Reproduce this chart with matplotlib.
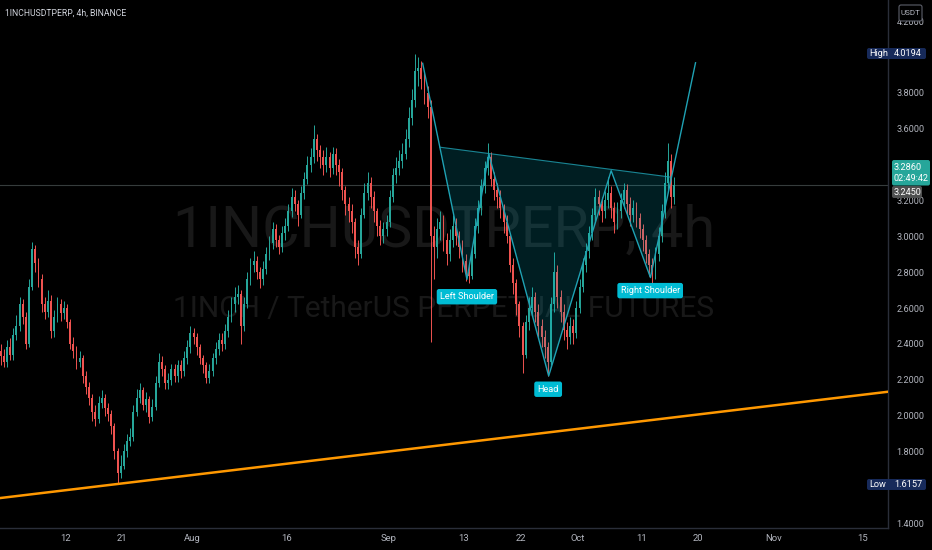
import numpy as np
import pandas as pd
import matplotlib
matplotlib.use("Agg")
import matplotlib.pyplot as plt
import matplotlib.dates as mdates
from matplotlib.patches import FancyBboxPatch
from matplotlib.transforms import IdentityTransform

# 1INCHUSDTPERP, 12h candles (open = previous close)
start = "2021-07-01 18:00"
first_open = 2.36
closes = [
    2.33, 2.30, 2.38, 2.34, 2.45, 2.50, 2.62, 2.55, 2.40, 2.72,
    2.93, 2.85, 2.76, 2.62, 2.58, 2.64, 2.47, 2.55, 2.62, 2.57,
    2.60, 2.52, 2.40, 2.36, 2.30, 2.32, 2.22, 2.16, 2.10, 2.02,
    1.98, 2.07, 2.10, 2.04, 2.01, 1.94, 1.80, 1.68, 1.72, 1.80,
    1.86, 1.88, 2.02, 2.10, 2.14, 2.06, 2.09, 1.99, 2.05, 2.18,
    2.30, 2.26, 2.18, 2.20, 2.26, 2.22, 2.28, 2.25, 2.32, 2.38,
    2.46, 2.44, 2.38, 2.32, 2.28, 2.21, 2.25, 2.32, 2.37, 2.42,
    2.40, 2.47, 2.55, 2.62, 2.66, 2.68, 2.50, 2.62, 2.76, 2.84,
    2.86, 2.80, 2.76, 2.82, 2.90, 2.96, 3.04, 2.98, 2.94, 3.02,
    3.06, 3.14, 3.22, 3.18, 3.12, 3.24, 3.32, 3.40, 3.44, 3.54,
    3.48, 3.44, 3.40, 3.44, 3.38, 3.46, 3.40, 3.36, 3.26, 3.18,
    3.14, 3.08, 2.94, 2.90, 3.12, 3.24, 3.30, 3.22, 3.14, 3.06,
    3.00, 3.04, 3.08, 3.22, 3.34, 3.38, 3.42, 3.46, 3.54, 3.66,
    3.76, 3.92, 3.94, 3.88, 3.80, 3.72, 3.00, 2.94, 3.04, 3.08,
    2.98, 2.90, 2.98, 3.06, 3.00, 2.94, 2.86, 2.80, 2.78, 2.90,
    3.06, 3.16, 3.28, 3.38, 3.44, 3.32, 3.26, 3.22, 3.16, 3.08,
    3.00, 2.84, 2.74, 2.62, 2.50, 2.34, 2.52, 2.60, 2.66, 2.58,
    2.50, 2.44, 2.38, 2.30, 2.62, 2.80, 2.66, 2.58, 2.48, 2.44,
    2.50, 2.46, 2.60, 2.72, 2.84, 2.92, 3.02, 3.12, 3.22, 3.18,
    3.14, 3.20, 3.24, 3.16, 3.08, 3.14, 3.20, 3.26, 3.18, 3.12,
    3.16, 3.10, 3.04, 2.98, 2.90, 2.84, 2.80, 2.90, 3.00, 3.14,
    3.30, 3.42, 3.22, 3.286,
]
highs = [
    2.40, 2.37, 2.42, 2.43, 2.49, 2.56, 2.66, 2.65, 2.58, 2.76,
    2.97, 2.95, 2.88, 2.79, 2.66, 2.70, 2.67, 2.59, 2.66, 2.65,
    2.64, 2.62, 2.54, 2.44, 2.39, 2.36, 2.34, 2.25, 2.19, 2.12,
    2.06, 2.11, 2.14, 2.12, 2.07, 2.03, 1.96, 1.82, 1.78, 1.84,
    1.90, 1.93, 2.06, 2.15, 2.18, 2.16, 2.13, 2.11, 2.09, 2.22,
    2.35, 2.33, 2.28, 2.24, 2.29, 2.29, 2.31, 2.31, 2.36, 2.42,
    2.50, 2.49, 2.46, 2.40, 2.34, 2.30, 2.29, 2.35, 2.41, 2.46,
    2.46, 2.51, 2.59, 2.66, 2.72, 2.73, 2.70, 2.66, 2.80, 2.88,
    2.92, 2.89, 2.83, 2.86, 2.94, 3.00, 3.08, 3.07, 3.01, 3.06,
    3.10, 3.18, 3.27, 3.26, 3.20, 3.28, 3.36, 3.45, 3.49, 3.62,
    3.57, 3.51, 3.48, 3.50, 3.47, 3.50, 3.49, 3.43, 3.38, 3.28,
    3.22, 3.18, 3.10, 2.98, 3.16, 3.30, 3.36, 3.33, 3.25, 3.16,
    3.09, 3.08, 3.12, 3.26, 3.38, 3.44, 3.48, 3.52, 3.60, 3.72,
    3.82, 4.0194, 4.00, 3.98, 3.92, 3.84, 3.76, 3.06, 3.10, 3.14,
    3.12, 3.02, 3.04, 3.12, 3.10, 3.03, 2.98, 2.90, 2.84, 2.94,
    3.10, 3.20, 3.32, 3.42, 3.52, 3.47, 3.36, 3.30, 3.26, 3.18,
    3.12, 3.02, 2.88, 2.76, 2.64, 2.52, 2.56, 2.66, 2.72, 2.69,
    2.62, 2.54, 2.48, 2.41, 2.66, 2.91, 2.84, 2.70, 2.62, 2.52,
    2.55, 2.54, 2.64, 2.76, 2.88, 2.96, 3.06, 3.16, 3.27, 3.26,
    3.22, 3.25, 3.33, 3.28, 3.19, 3.19, 3.24, 3.30, 3.29, 3.22,
    3.20, 3.19, 3.13, 3.07, 3.01, 2.93, 2.88, 2.94, 3.05, 3.18,
    3.36, 3.52, 3.46, 3.33,
]
lows = [
    2.28, 2.27, 2.27, 2.31, 2.31, 2.42, 2.47, 2.51, 2.37, 2.38,
    2.70, 2.80, 2.72, 2.58, 2.54, 2.55, 2.43, 2.44, 2.52, 2.53,
    2.54, 2.49, 2.37, 2.32, 2.26, 2.27, 2.18, 2.12, 2.06, 1.97,
    1.94, 1.96, 2.04, 2.00, 1.97, 1.90, 1.76, 1.6157, 1.65, 1.70,
    1.77, 1.83, 1.86, 2.00, 2.07, 2.03, 2.02, 1.96, 1.97, 2.03,
    2.16, 2.22, 2.15, 2.15, 2.17, 2.19, 2.19, 2.21, 2.22, 2.29,
    2.35, 2.40, 2.34, 2.29, 2.24, 2.18, 2.18, 2.22, 2.29, 2.34,
    2.36, 2.37, 2.44, 2.52, 2.58, 2.62, 2.40, 2.47, 2.60, 2.73,
    2.80, 2.76, 2.71, 2.73, 2.79, 2.87, 2.93, 2.94, 2.90, 2.91,
    2.98, 3.03, 3.11, 3.14, 3.06, 3.10, 3.21, 3.29, 3.36, 3.41,
    3.42, 3.38, 3.34, 3.36, 3.33, 3.35, 3.34, 3.28, 3.20, 3.12,
    3.08, 3.02, 2.88, 2.84, 2.88, 3.10, 3.20, 3.16, 3.08, 3.00,
    2.95, 2.96, 3.00, 3.05, 3.19, 3.30, 3.34, 3.38, 3.43, 3.50,
    3.62, 3.72, 3.84, 3.82, 3.74, 3.66, 2.41, 2.76, 2.88, 2.98,
    2.92, 2.84, 2.86, 2.94, 2.95, 2.88, 2.80, 2.75, 2.74, 2.76,
    2.88, 3.02, 3.12, 3.24, 3.34, 3.28, 3.20, 3.16, 3.10, 3.02,
    2.96, 2.80, 2.68, 2.56, 2.44, 2.24, 2.32, 2.48, 2.56, 2.52,
    2.44, 2.38, 2.32, 2.22, 2.28, 2.58, 2.60, 2.52, 2.42, 2.37,
    2.40, 2.40, 2.43, 2.57, 2.69, 2.80, 2.88, 2.98, 3.08, 3.12,
    3.08, 3.10, 3.16, 3.10, 3.02, 3.04, 3.10, 3.16, 3.12, 3.06,
    3.08, 3.05, 2.99, 2.92, 2.85, 2.78, 2.74, 2.76, 2.86, 2.97,
    3.10, 3.26, 3.16, 3.18,
]

tick_dates = ["2021-07-12", "2021-07-21", "2021-08-01", "2021-08-16", "2021-09-01", "2021-09-13",
              "2021-09-22", "2021-10-01", "2021-10-11", "2021-10-20", "2021-11-01", "2021-11-15"]
tick_labels = ["12", "21", "Aug", "16", "Sep", "13", "22", "Oct", "11", "20", "Nov", "15"]
# 1.6, 3.4 and 4.0 sit under the Low / last price / High tags
price_ticks = [1.4, 1.8, 2.0, 2.2, 2.4, 2.6, 2.8, 3.0, 3.2, 3.6, 3.8, 4.2]

# inverse head & shoulders drawing
pattern_dates = ["2021-09-06 11:00", "2021-09-13 11:00", "2021-09-16 22:00", "2021-09-26 09:00",
                 "2021-10-06 06:00", "2021-10-12 11:00", "2021-10-19 14:00"]
pattern_prices = [3.965, 2.76, 3.459, 2.221, 3.366, 2.77, 3.968]
neck_dates = ["2021-09-09 05:00", "2021-10-15 17:00"]
neck_prices = [3.497, 3.33]
label_texts = ["Left Shoulder", "Head", "Right Shoulder"]
label_dates = ["2021-09-13 11:00", "2021-09-26 07:00", "2021-10-12 10:00"]
label_prices = [2.663, 2.147, 2.697]

trend_dates = ["2021-07-01 16:00", "2021-11-19 00:00"]
trend_prices = [1.540, 2.133]

last_price = 3.286
prev_close = 3.245
high_price = 4.0194
low_price = 1.6157
countdown = "02:49:42"

BG = "#000000"
UP = "#26a69a"
DOWN = "#ef5350"
AXIS_TXT = "#b2b5be"
LINE = "#2a2e39"
PAT = "#1fa2b4"

plt.rcParams["font.family"] = ["Roboto", "Liberation Sans", "DejaVu Sans"]

W, H = 932, 550
fig = plt.figure(figsize=(W / 100, H / 100), dpi=100, facecolor=BG)
ax = fig.add_axes([0, 22 / H, 888 / W, 528 / H], facecolor=BG)

# watermark
ax.text(0.5, 0.5625, "1INCHUSDTPERP, 4h", transform=ax.transAxes, fontsize=41.5,
        color="#181818", ha="center", va="center", zorder=0)
ax.text(0.5, 0.415, "1INCH / TetherUS PERPETUAL FUTURES", transform=ax.transAxes, fontsize=21.5,
        color="#181818", ha="center", va="center", zorder=0)

# candles
dates = pd.date_range(start, periods=len(closes), freq="12h")
x = mdates.date2num(dates)
c = np.array(closes)
o = np.array([first_open] + closes[:-1])
colors = np.where(c >= o, UP, DOWN)
ax.vlines(x, lows, highs, colors=colors, lw=0.7, zorder=3)
ax.bar(x, np.maximum(np.abs(c - o), 0.004), bottom=np.minimum(o, c), width=0.3,
       color=colors, lw=0, zorder=3)

# last price line
ax.axhline(last_price, color="#363c3c", lw=0.8, zorder=2)

# trend line
ax.plot(mdates.date2num(pd.to_datetime(trend_dates)), trend_prices, color="#ff9800", lw=1.8, zorder=4)

# pattern
px = mdates.date2num(pd.to_datetime(pattern_dates))
nx = mdates.date2num(pd.to_datetime(neck_dates))
ax.fill([nx[0]] + list(px[1:6]) + [nx[1]], [neck_prices[0]] + pattern_prices[1:6] + [neck_prices[1]],
        color="#00bcd4", alpha=0.16, lw=0, zorder=4)
ax.plot(nx, neck_prices, color=PAT, lw=0.8, alpha=0.8, zorder=5)
ax.plot(px, pattern_prices, color=PAT, lw=1.0, zorder=5)
for txt, d, p in zip(label_texts, label_dates, label_prices):
    ax.text(mdates.date2num(pd.Timestamp(d)), p, txt, fontsize=6.6, color="white", ha="center",
            va="center", zorder=6,
            bbox=dict(boxstyle="round,pad=0.35,rounding_size=0.25", fc="#00bcd4", ec="none"))

ax.set_xlim(mdates.date2num(pd.Timestamp("2021-07-01 16:00")), mdates.date2num(pd.Timestamp("2021-11-19")))
ax.set_ylim(1.373, 4.318)

ax.set_xticks(mdates.date2num(pd.to_datetime(tick_dates)))
ax.set_xticklabels(tick_labels)
ax.yaxis.tick_right()
ax.set_yticks(price_ticks)
ax.set_yticklabels([f"{v:.4f}" for v in price_ticks])
ax.tick_params(axis="x", length=0, pad=4, labelsize=6.8, labelcolor=AXIS_TXT)
ax.tick_params(axis="y", length=0, pad=6, labelsize=6.6, labelcolor=AXIS_TXT)
for s in ["left", "top"]:
    ax.spines[s].set_visible(False)
for s in ["right", "bottom"]:
    ax.spines[s].set_color(LINE)
    ax.spines[s].set_linewidth(1)

# price-scale tags, in pixel coordinates
ID = IdentityTransform()


def ypix(price):
    return ax.transData.transform((x[0], price))[1]


def box(x0, x1, y0, y1, fc, ec="none"):
    fig.add_artist(FancyBboxPatch((x0, y0), x1 - x0, y1 - y0, boxstyle="round,pad=0,rounding_size=2",
                                  transform=ID, fc=fc, ec=ec, lw=0.8, zorder=5))


def label(xp, yp, s, color="white", ha="left", size=6.6):
    fig.text(xp, yp, s, transform=ID, color=color, ha=ha, va="center", fontsize=size, zorder=6)


for name, val in [("High", high_price), ("Low", low_price)]:
    y = ypix(val)
    box(867, 926, y - 5.5, y + 5.5, "#172a5a")
    label(869, y, name)
    label(894, y, f"{val:.4f}")

y = ypix(last_price)
box(892, 930, y - 0.5, y + 25, UP)
label(894, y + 18, f"{last_price:.4f}")
label(894, y + 6.5, countdown)
box(892, 922, y - 13, y - 1, "#4f5050")
label(894, y - 7, f"{prev_close:.4f}")

box(899, 922, H - 21, H - 5, BG, ec="#5d606b")
label(910.5, H - 13, "USDT", color=AXIS_TXT, ha="center", size=5.8)

fig.text(5, H - 13, "1INCHUSDTPERP, 4h, BINANCE", transform=ID, color="#d1d4dc", fontsize=6.2,
         ha="left", va="center")

fig.savefig("out.png", dpi=100, facecolor=BG)
